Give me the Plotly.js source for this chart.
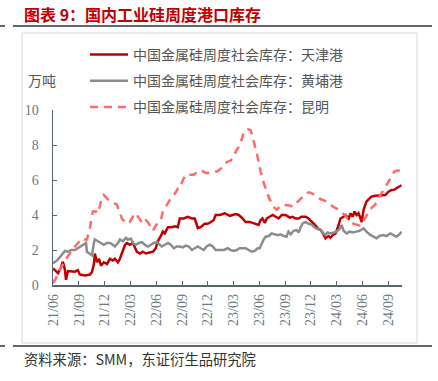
<!DOCTYPE html>
<html>
<head>
<meta charset="utf-8">
<script src="https://cdn.plot.ly/plotly-3.0.1.min.js"></script>
<style>html,body{margin:0;padding:0;background:#fff;}#chart{width:438px;height:381px;}</style>
</head>
<body>
<div id="chart"></div>
<script>
// ---- data (万吨) ----
const tianjinDates = ["2021-06-01","2021-06-12","2021-06-19","2021-06-29","2021-07-06","2021-07-13","2021-07-17","2021-07-24","2021-08-07","2021-08-18","2021-08-28","2021-09-04","2021-09-22","2021-10-10","2021-10-17","2021-10-24","2021-10-27","2021-11-04","2021-11-11","2021-11-18","2021-11-28","2021-12-09","2021-12-20","2021-12-30","2022-01-06","2022-01-17","2022-01-24","2022-02-04","2022-02-11","2022-02-18","2022-02-28","2022-03-11","2022-03-18","2022-03-25","2022-04-05","2022-04-15","2022-04-26","2022-05-10","2022-05-21","2022-05-31","2022-06-07","2022-06-18","2022-06-25","2022-07-02","2022-07-13","2022-07-27","2022-08-06","2022-08-17","2022-08-24","2022-09-07","2022-09-21","2022-10-06","2022-10-16","2022-10-27","2022-11-06","2022-11-20","2022-12-01","2022-12-12","2022-12-22","2022-12-29","2023-01-13","2023-01-30","2023-02-17","2023-02-27","2023-03-10","2023-03-21","2023-04-04","2023-04-14","2023-04-29","2023-05-09","2023-05-20","2023-05-30","2023-06-06","2023-06-13","2023-06-21","2023-06-28","2023-07-08","2023-07-19","2023-07-30","2023-08-09","2023-08-20","2023-09-03","2023-09-17","2023-09-28","2023-10-08","2023-10-19","2023-10-29","2023-11-13","2023-11-23","2023-12-07","2023-12-18","2023-12-25","2024-01-05","2024-01-15","2024-01-22","2024-02-02","2024-02-09","2024-02-20","2024-02-27","2024-03-08","2024-03-15","2024-03-26","2024-04-02","2024-04-13","2024-04-20","2024-04-27","2024-05-04","2024-05-11","2024-05-18","2024-05-25","2024-05-29","2024-06-05","2024-06-15","2024-06-26","2024-07-03","2024-07-17","2024-08-04","2024-08-21","2024-09-01","2024-09-12","2024-09-22","2024-09-29","2024-10-10","2024-10-17"];
const tianjinValues = [0.95,0.75,0.68,1.0,1.33,0.9,0.3,0.8,0.8,0.76,0.85,0.6,0.55,0.6,0.75,1.2,1.8,1.3,1.5,1.1,1.3,1.2,1.5,1.4,1.5,1.3,1.5,2.0,2.3,2.4,2.3,2.4,2.1,1.9,1.8,1.9,1.8,1.85,1.9,2.1,2.5,2.8,3.05,2.95,3.3,3.3,3.35,3.3,3.8,3.8,3.9,3.8,3.8,3.25,3.3,3.5,3.5,3.6,3.7,4.0,4.0,4.1,3.95,4.0,4.05,4.0,3.8,3.6,3.6,3.55,3.5,3.43,3.7,3.8,3.55,3.8,3.9,4.0,3.9,3.8,4.0,4.0,3.85,3.9,3.8,3.8,3.9,3.9,3.8,3.6,3.4,3.24,3.14,2.9,2.67,2.8,2.7,2.9,2.95,3.4,3.8,3.9,4.0,3.8,4.1,3.9,4.2,4.0,4.1,3.8,3.6,4.3,4.76,4.95,5.05,5.1,5.14,5.14,5.33,5.43,5.45,5.52,5.6,5.7];

const huangpuDates = ["2021-06-01","2021-06-15","2021-06-26","2021-07-06","2021-07-13","2021-07-24","2021-08-04","2021-08-18","2021-08-28","2021-09-08","2021-09-19","2021-09-26","2021-09-29","2021-10-10","2021-10-17","2021-10-24","2021-10-27","2021-11-07","2021-11-18","2021-11-28","2021-12-09","2021-12-20","2021-12-30","2022-01-06","2022-01-17","2022-01-24","2022-02-04","2022-02-14","2022-02-21","2022-03-04","2022-03-11","2022-03-21","2022-04-01","2022-04-12","2022-04-22","2022-05-03","2022-05-14","2022-05-24","2022-06-04","2022-06-14","2022-06-21","2022-07-02","2022-07-13","2022-07-23","2022-08-03","2022-08-13","2022-08-24","2022-09-04","2022-09-14","2022-09-25","2022-10-06","2022-10-16","2022-10-27","2022-11-06","2022-11-17","2022-11-27","2022-12-08","2022-12-19","2022-12-29","2023-01-13","2023-01-27","2023-02-10","2023-02-20","2023-03-03","2023-03-14","2023-03-24","2023-04-04","2023-04-14","2023-04-25","2023-05-06","2023-05-16","2023-05-27","2023-06-03","2023-06-10","2023-06-17","2023-06-24","2023-07-05","2023-07-15","2023-07-26","2023-08-06","2023-08-16","2023-08-27","2023-09-06","2023-09-13","2023-09-21","2023-10-01","2023-10-12","2023-10-19","2023-10-26","2023-11-02","2023-11-13","2023-11-23","2023-12-04","2023-12-14","2023-12-25","2024-01-05","2024-01-15","2024-01-22","2024-01-29","2024-02-09","2024-02-20","2024-03-01","2024-03-12","2024-03-19","2024-03-26","2024-04-06","2024-04-16","2024-04-27","2024-05-11","2024-05-22","2024-06-05","2024-06-15","2024-06-29","2024-07-10","2024-07-21","2024-07-31","2024-08-14","2024-08-25","2024-09-08","2024-09-19","2024-09-29","2024-10-10","2024-10-17"];
const huangpuValues = [1.24,1.4,1.6,1.8,1.95,1.9,2.0,2.0,2.1,2.2,2.3,2.4,1.9,1.8,1.7,2.4,2.6,2.5,2.4,2.3,2.4,2.4,2.3,2.2,2.4,2.6,2.5,2.7,2.6,2.65,2.4,2.3,2.4,2.45,2.3,2.2,2.3,2.4,2.45,2.3,2.2,2.3,2.4,2.3,2.1,2.2,2.2,2.15,2.25,2.2,2.0,2.1,2.2,2.1,2.0,2.2,2.3,2.2,2.0,2.0,2.0,2.1,2.0,1.95,2.0,2.1,2.1,2.1,2.0,1.9,1.95,2.1,2.1,2.4,2.6,2.76,2.8,2.95,2.9,2.85,2.9,2.8,2.76,3.05,2.9,3.1,3.14,3.0,3.3,3.52,3.6,3.5,3.45,3.3,3.2,3.14,2.95,2.86,3.0,2.95,3.0,3.05,3.2,3.43,3.1,2.95,3.05,3.0,3.05,3.1,3.24,3.05,2.86,2.75,2.67,2.8,2.86,2.8,2.95,2.85,2.76,2.9,3.05];

const kunmingDates = ["2021-06-01","2021-06-12","2021-06-19","2021-06-29","2021-07-06","2021-07-17","2021-07-31","2021-08-11","2021-08-18","2021-08-28","2021-09-12","2021-09-22","2021-09-29","2021-10-10","2021-10-17","2021-10-20","2021-10-31","2021-11-07","2021-11-14","2021-11-21","2021-11-28","2021-12-05","2021-12-12","2021-12-20","2021-12-30","2022-01-13","2022-01-20","2022-01-31","2022-02-11","2022-02-18","2022-02-28","2022-03-07","2022-03-18","2022-03-25","2022-04-05","2022-04-15","2022-04-26","2022-05-03","2022-05-10","2022-05-21","2022-05-31","2022-06-07","2022-06-18","2022-06-25","2022-07-06","2022-07-16","2022-07-27","2022-08-06","2022-08-17","2022-08-24","2022-09-04","2022-09-14","2022-09-28","2022-10-13","2022-10-23","2022-11-03","2022-11-13","2022-11-24","2022-12-08","2022-12-22","2023-01-05","2023-01-20","2023-01-30","2023-02-10","2023-02-20","2023-03-03","2023-03-14","2023-03-24","2023-03-31","2023-04-07","2023-04-14","2023-04-22","2023-05-02","2023-05-09","2023-05-16","2023-05-23","2023-05-30","2023-06-06","2023-06-14","2023-06-21","2023-06-28","2023-07-08","2023-07-15","2023-07-26","2023-08-02","2023-08-09","2023-08-20","2023-09-03","2023-09-17","2023-09-28","2023-10-08","2023-10-15","2023-10-22","2023-11-02","2023-11-13","2023-11-23","2023-12-04","2023-12-14","2023-12-25","2024-01-05","2024-01-15","2024-01-26","2024-02-05","2024-02-16","2024-02-27","2024-03-08","2024-03-19","2024-03-30","2024-04-09","2024-04-20","2024-04-30","2024-05-11","2024-05-22","2024-05-29","2024-06-08","2024-06-19","2024-06-29","2024-07-10","2024-07-21","2024-07-31","2024-08-11","2024-08-21","2024-09-01","2024-09-12","2024-09-22","2024-10-03","2024-10-17"];
const kunmingValues = [0.1,0.4,0.68,1.0,1.24,1.5,1.8,2.0,2.2,2.4,2.67,2.6,2.6,3.3,3.9,4.2,4.2,4.1,4.5,5.0,5.15,5.0,4.9,4.8,4.7,4.6,4.3,3.8,3.6,3.5,3.6,3.8,4.1,4.0,3.7,3.5,3.7,3.6,3.4,3.1,3.4,3.5,3.7,4.2,4.5,4.8,5.05,5.2,5.5,5.5,6.0,6.3,6.3,6.3,6.45,6.55,6.5,6.4,6.4,6.45,6.5,6.7,6.95,7.05,7.1,7.4,7.7,8.0,8.3,8.7,8.86,8.9,8.86,8.5,8.0,7.6,7.0,6.5,6.0,5.6,5.33,4.9,4.67,4.4,4.3,4.4,4.57,4.57,4.55,4.48,4.6,4.75,4.86,5.05,5.2,5.3,5.25,5.14,5.0,4.9,4.85,4.76,4.65,4.5,4.4,4.3,4.15,4.0,3.8,3.62,3.5,3.45,3.4,3.5,3.8,4.1,4.35,4.5,4.7,5.05,5.3,5.6,5.9,6.2,6.48,6.55,6.55];

const seriesNames = ["中国金属硅周度社会库存：天津港","中国金属硅周度社会库存：黄埔港","中国金属硅周度社会库存：昆明"];
const yTickValues = [0,2,4,6,8,10];
const chartTitle = "图表 9：国内工业硅周度港口库存";
const unitLabel = "万吨";
const sourceText = "资料来源：SMM，东证衍生品研究院";

// ---- layout helpers (pixel -> paper) ----
const W = 438, H = 381, L = 53, R = 36, T = 110, B = 96;
const pw = W - L - R, ph = H - T - B;
const px = v => (v - L) / pw;
const py = v => (H - B - v) / ph;

const cjk = '"Noto Sans CJK SC", "Noto Sans", sans-serif';
const serif = '"Liberation Serif", "DejaVu Serif", serif';
const axisCol = '#56666a';
const tickCol = '#6e7b7e';

const traces = [
  {x: tianjinDates, y: tianjinValues, name: seriesNames[0], type: 'scatter', mode: 'lines',
   line: {color: '#C00000', width: 2.5}, legendgroup: 'a'},
  {x: huangpuDates, y: huangpuValues, name: seriesNames[1], type: 'scatter', mode: 'lines',
   line: {color: '#8C8C8C', width: 2.5}, legendgroup: 'b'},
  {x: kunmingDates, y: kunmingValues, name: seriesNames[2], type: 'scatter', mode: 'lines',
   line: {color: '#FF6B6B', width: 2.5, dash: '8px,6px'}, legendgroup: 'c'}
];

const layout = {
  width: W, height: H,
  margin: {l: L, r: R, t: T, b: B, pad: 0},
  paper_bgcolor: '#fff', plot_bgcolor: '#fff',
  showlegend: true,
  legend: {x: px(85), xanchor: 'left', y: py(39), yanchor: 'top',
    font: {family: cjk, size: 14, color: '#555'}, bgcolor: 'rgba(0,0,0,0)',
    traceorder: 'grouped', tracegroupgap: 5, itemwidth: 38},
  xaxis: {type: 'date', range: ['2021-06-01', '2024-10-19'],
    tick0: '2021-06-01', dtick: 'M3', tickformat: '%y/%m', tickangle: -90,
    ticks: 'inside', ticklen: 4, tickcolor: axisCol, showgrid: false, zeroline: false,
    showline: true, linecolor: axisCol, linewidth: 1.5,
    tickfont: {family: serif, size: 14, color: tickCol}, ticklabelstandoff: 2},
  yaxis: {range: [0, 10], tickvals: yTickValues, ticks: 'inside', ticklen: 4, tickcolor: axisCol,
    showgrid: false, zeroline: false, showline: true, linecolor: axisCol, linewidth: 1.5,
    tickfont: {family: serif, size: 14, color: tickCol}, ticklabelstandoff: 10},
  shapes: [
    {type: 'rect', xref: 'paper', yref: 'paper', x0: px(22), x1: px(417), y0: py(343), y1: py(33),
     line: {color: '#d8d8d8', width: 1}, layer: 'below'},
    {type: 'line', xref: 'paper', yref: 'paper', x0: px(0), x1: px(5), y0: py(26), y1: py(26), line: {color: '#333', width: 1.5}},
    {type: 'line', xref: 'paper', yref: 'paper', x0: px(13), x1: px(432), y0: py(26), y1: py(26), line: {color: '#333', width: 1.5}},
    {type: 'line', xref: 'paper', yref: 'paper', x0: px(0), x1: px(5), y0: py(346), y1: py(346), line: {color: '#333', width: 1.5}},
    {type: 'line', xref: 'paper', yref: 'paper', x0: px(13), x1: px(432), y0: py(346), y1: py(346), line: {color: '#333', width: 1.5}}
  ],
  annotations: [
    {text: '<b>' + chartTitle + '</b>', xref: 'paper', yref: 'paper', x: px(22), y: py(14),
     xanchor: 'left', yanchor: 'middle', showarrow: false,
     font: {family: cjk, size: 16, color: '#C00000'}},
    {text: unitLabel, xref: 'paper', yref: 'paper', x: px(26), y: py(80),
     xanchor: 'left', yanchor: 'middle', showarrow: false,
     font: {family: cjk, size: 14, color: '#555'}},
    {text: sourceText, xref: 'paper', yref: 'paper', x: px(22), y: py(358),
     xanchor: 'left', yanchor: 'middle', showarrow: false,
     font: {family: cjk, size: 14.3, color: '#333'}}
  ]
};

Plotly.newPlot('chart', traces, layout, {displayModeBar: false, staticPlot: true});
</script>
</body>
</html>
